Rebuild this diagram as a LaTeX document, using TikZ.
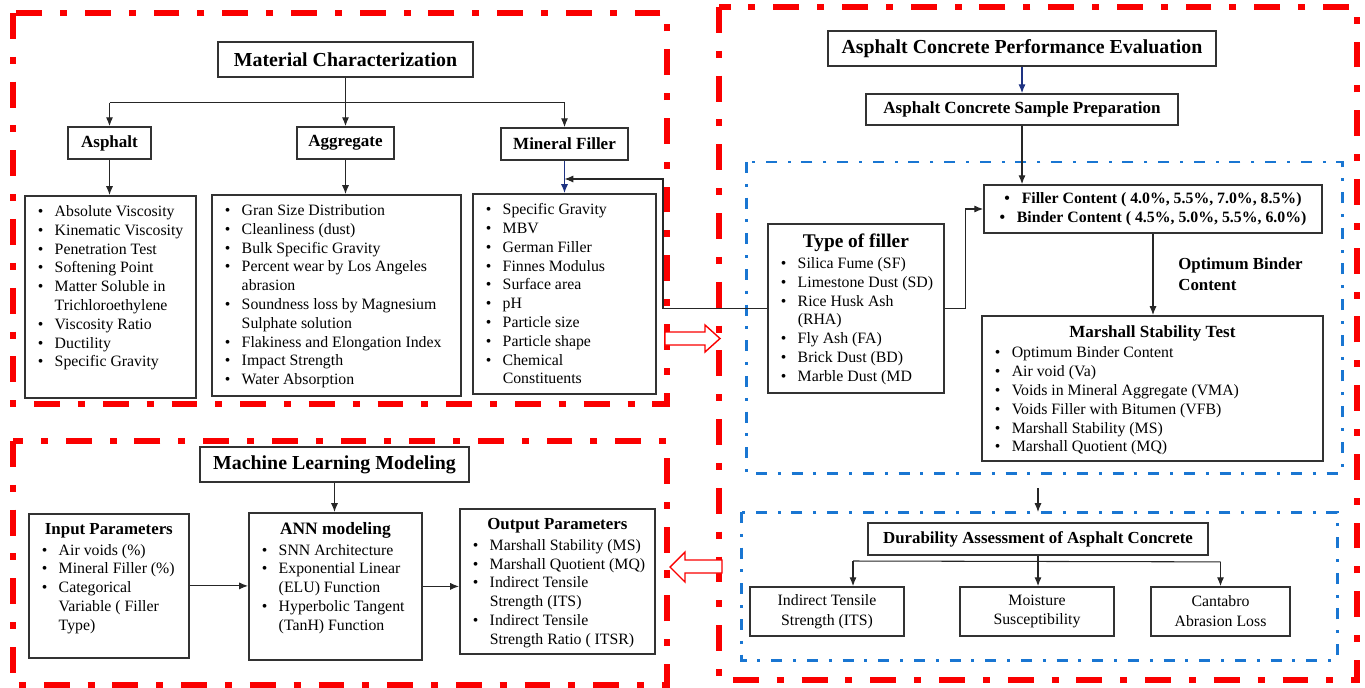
\documentclass[tikz,border=0pt]{standalone}
\usepackage{fontspec}
\setmainfont{Liberation Serif}
\usetikzlibrary{arrows.meta}
\definecolor{redc}{RGB}{250,0,0}
\definecolor{bluec}{RGB}{25,118,210}
\definecolor{navyc}{RGB}{30,50,130}
\definecolor{edgec}{RGB}{50,50,50}
\newlength{\pxu}\setlength{\pxu}{0.02cm}
% bullet item with hanging indent
\newcommand{\itm}{\par\hangindent=9.6pt\hangafter=1\noindent\makebox[9.6pt][l]{\textbullet}}
% top aligned list inside a box of w x h pixels
\newcommand{\listbox}[3]{\parbox[t][\dimexpr#2\pxu-11pt\relax][t]{#1\pxu}{\leftskip=7.4pt #3}}
\newcommand{\boxhead}[2]{{\centering\bfseries\fontsize{#1}{#1}\selectfont#2\par}}
\begin{document}
\begin{tikzpicture}[x=0.02cm,y=-0.02cm,
    mainbox/.style={draw=edgec,line width=1pt,inner sep=0pt,font=\bfseries\fontsize{11.3}{13}\selectfont},
    subbox/.style={draw=edgec,line width=1pt,inner sep=0pt,font=\bfseries\fontsize{9.7}{11}\selectfont},
    lbox/.style={draw=edgec,line width=1pt,anchor=north west,inner xsep=0pt,inner ysep=5.5pt,font=\fontsize{9}{10.7}\selectfont},
    tbox/.style={draw=edgec,line width=1pt,inner sep=0pt,align=center,font=\fontsize{9}{11.3}\selectfont},
    redfr/.style={draw=redc,line width=3.4pt,dash pattern=on 14.7pt off 10.2pt on 4pt off 10.2pt},
    bluefr/.style={draw=bluec,line width=1.7pt,dash pattern=on 6.2pt off 6.2pt on 1.7pt off 6.2pt},
    conn/.style={draw=black!85,line width=0.6pt},
    arr/.style={conn,-{Latex[length=5pt,width=4pt]}},
    navarr/.style={draw=navyc,line width=0.6pt,-{Latex[length=5pt,width=4pt]}},
    hollow/.style={draw=redc,line width=0.8pt,fill=white}]
\useasboundingbox (0,0) rectangle (1365,687);

% frames
\draw[redfr] (13,13) rectangle (667,404);
\draw[redfr] (13,441) rectangle (667,685);
\draw[redfr] (719,7) rectangle (1357,680);
\draw[bluefr] (746,162) rectangle (1342,473);
\draw[bluefr] (741,512) rectangle (1337,660);

% material characterization
\node[mainbox,minimum width=5.1cm,minimum height=0.7cm] (mc) at (345.5,59.5) {Material Characterization};
\node[subbox,minimum width=1.66cm,minimum height=0.64cm] (asp) at (109.5,143) {Asphalt};
\node[subbox,minimum width=1.94cm,minimum height=0.64cm] (agg) at (345.5,143) {Aggregate};
\node[subbox,minimum width=2.54cm,minimum height=0.64cm] (mf) at (564.5,144) {Mineral Filler};

\node[lbox] (aspL) at (24,195) {\listbox{171}{202}{%
  \itm Absolute Viscosity
  \itm Kinematic Viscosity
  \itm Penetration Test
  \itm Softening Point
  \itm Matter Soluble in\\Trichloroethylene
  \itm Viscosity Ratio
  \itm Ductility
  \itm Specific Gravity}};
\node[lbox] (aggL) at (211,194) {\listbox{249}{201}{%
  \itm Gran Size Distribution
  \itm Cleanliness (dust)
  \itm Bulk Specific Gravity
  \itm Percent wear by Los Angeles\\abrasion
  \itm Soundness loss by Magnesium\\Sulphate solution
  \itm Flakiness and Elongation Index
  \itm Impact Strength
  \itm Water Absorption}};
\node[lbox] (mfL) at (472,193) {\listbox{183}{200}{%
  \itm Specific Gravity
  \itm MBV
  \itm German Filler
  \itm Finnes Modulus
  \itm Surface area
  \itm pH
  \itm Particle size
  \itm Particle shape
  \itm Chemical\\Constituents}};

\draw[conn] (mc.south) -- ++(0,25) coordinate (mcj);
\draw[conn] (asp.north |- mcj) -- (mf.north |- mcj);
\draw[arr] (asp.north |- mcj) -- (asp.north);
\draw[arr] (mcj) -- (agg.north);
\draw[arr] (mf.north |- mcj) -- (mf.north);
\draw[arr] (asp.south) -- (asp.south |- aspL.north);
\draw[arr] (agg.south) -- (agg.south |- aggL.north);
\draw[navarr] (mf.south) -- (mf.south |- mfL.north);

% performance evaluation
\node[mainbox,minimum width=7.76cm,minimum height=0.7cm] (acpe) at (1022,48.5) {Asphalt Concrete Performance Evaluation};
\node[subbox,minimum width=6.24cm,minimum height=0.62cm] (acsp) at (1022,109.5) {Asphalt Concrete Sample Preparation};
\node[draw=edgec,line width=1pt,inner sep=0pt,align=center,minimum width=6.76cm,minimum height=0.96cm,
  font=\bfseries\fontsize{9}{10.6}\selectfont] (fc) at (1153,209)
  {\textbullet\hspace{6.7pt}Filler Content ( 4.0\%, 5.5\%, 7.0\%, 8.5\%)\\
   \textbullet\hspace{6.7pt}Binder Content ( 4.5\%, 5.0\%, 5.5\%, 6.0\%)};
\node[lbox] (tf) at (767,223) {\listbox{176}{169}{%
  \boxhead{11}{Type of filler}\vspace{1.5pt}
  \itm Silica Fume (SF)
  \itm Limestone Dust (SD)
  \itm Rice Husk Ash\\(RHA)
  \itm Fly Ash (FA)
  \itm Brick Dust (BD)
  \itm Marble Dust (MD}};
\node[anchor=west,align=left,inner sep=0pt,font=\bfseries\fontsize{9.6}{11.9}\selectfont] (obc) at (1178,274) {Optimum Binder\\Content};
\node[lbox] (mst) at (981,315) {\listbox{341}{145}{%
  \boxhead{9.7}{Marshall Stability Test}\vspace{1pt}
  \itm Optimum Binder Content
  \itm Air void (Va)
  \itm Voids in Mineral Aggregate (VMA)
  \itm Voids Filler with Bitumen (VFB)
  \itm Marshall Stability (MS)
  \itm Marshall Quotient (MQ)}};

\draw[navarr] (acpe.south) -- (acsp.north);
\draw[arr] (acsp.south) -- (acsp.south |- fc.north);
\draw[arr] (tf.east) -- ++(21,0) |- (fc.west);
\draw[arr] (fc.south) -- (fc.south |- mst.north);
\coordinate (fb) at (663,179);
\draw[arr] (tf.west) -| (fb) -- (mf.south |- fb);

% durability
\coordinate (dtop) at (1038,488);
\coordinate (dbot) at (1038,512);
\draw[arr] (dtop) -- (dbot);
\node[subbox,minimum width=6.8cm,minimum height=0.64cm,font=\bfseries\fontsize{9.6}{11}\selectfont] (dur) at (1038,539) {Durability Assessment of Asphalt Concrete};
\node[tbox,minimum width=3.08cm,minimum height=0.98cm] (its) at (827,611.5) {Indirect Tensile\\Strength (ITS)};
\node[tbox,minimum width=3.08cm,minimum height=0.98cm] (moi) at (1037,611.5) {Moisture\\Susceptibility};
\node[tbox,minimum width=2.78cm,minimum height=0.98cm] (can) at (1220.5,611.5) {Cantabro\\Abrasion Loss};
\draw[conn] (dur.south) -- ++(0,6) coordinate (dj);
\coordinate (djl) at (853,561);
\draw[conn] (djl) -- (can.north |- dj);
\draw[arr] (djl) -- (djl |- its.north);
\draw[arr] (dj) -- (dj |- moi.north);
\draw[arr] (can.north |- dj) -- (can.north);

% machine learning
\node[mainbox,minimum width=5.38cm,minimum height=0.7cm] (ml) at (334.5,464.5) {Machine Learning Modeling};
\node[lbox] (inp) at (28,513) {\listbox{160}{144}{%
  \boxhead{9.6}{Input Parameters}\vspace{1pt}
  \itm Air voids (\%)
  \itm Mineral Filler (\%)
  \itm Categorical\\Variable ( Filler\\Type)}};
\node[lbox] (ann) at (248,512) {\listbox{173}{147}{%
  \boxhead{9.9}{ANN modeling}\vspace{1pt}
  \itm SNN Architecture
  \itm Exponential Linear\\(ELU) Function
  \itm Hyperbolic Tangent\\(TanH) Function}};
\node[lbox] (out) at (459,508) {\listbox{195}{145}{%
  \boxhead{9.6}{Output Parameters}\vspace{1pt}
  \itm Marshall Stability (MS)
  \itm Marshall Quotient (MQ)
  \itm Indirect Tensile\\Strength (ITS)
  \itm Indirect Tensile\\Strength Ratio ( ITSR)}};
\draw[arr] (ml.south) -- (ml.south |- ann.north);
\draw[arr] (inp.east) -- (inp.east -| ann.west);
\draw[arr] (ann.east) -- (ann.east -| out.west);

% hollow arrows between parts
\draw[hollow] (665,332) -- (705,332) -- (705,325) -- (720,338.5) -- (705,352) -- (705,345) -- (665,345) -- cycle;
\draw[hollow] (722,560) -- (685,560) -- (685,552) -- (670,567) -- (685,582) -- (685,573) -- (722,573) -- cycle;
\end{tikzpicture}
\end{document}
